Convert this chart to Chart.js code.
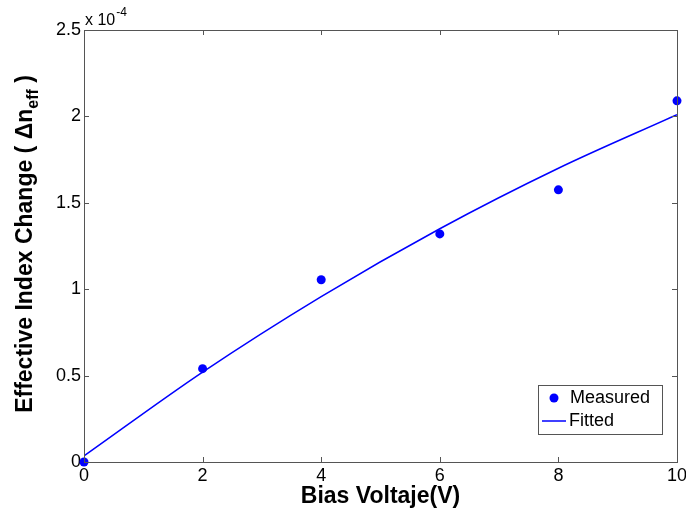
<!DOCTYPE html>
<html>
<head>
<meta charset="utf-8">
<script src="https://cdn.jsdelivr.net/npm/chart.js@4.4.1/dist/chart.umd.min.js"></script>
<style>
  html, body { margin: 0; padding: 0; background: #fff; }
  #chart { display: block; }
</style>
</head>
<body>
<canvas id="chart" width="686" height="516"></canvas>
<script>
// values, y in units of 1e-4
const voltage = [0, 2, 4, 6, 8, 10];
const measured = [0, 0.54, 1.055, 1.32, 1.575, 2.09];
const fitted = [0.035, 0.52, 0.957, 1.35, 1.70, 2.01];
const xTicks = [0, 2, 4, 6, 8, 10];
const yTicks = [0, 0.5, 1, 1.5, 2, 2.5];
const yExponent = "-4";
const seriesNames = ["Measured", "Fitted"];

const FONT = "'Liberation Sans', Arial, sans-serif";
const AXIS = "#555555";
const BLUE = "#0000ff";

const toXY = (ys) => voltage.map((v, i) => ({ x: v, y: ys[i] }));

// frame, inward ticks, titles, exponent and legend
const matlabLook = {
  id: "matlabLook",
  afterDraw(chart) {
    const { ctx, chartArea: a, scales } = chart;
    const xs = scales.x, ys = scales.y;
    ctx.save();

    ctx.strokeStyle = AXIS;
    ctx.lineWidth = 1;
    ctx.strokeRect(a.left + 0.5, a.top + 0.5, a.right - a.left, a.bottom - a.top);

    const t = 5;
    ctx.beginPath();
    xTicks.forEach((v) => {
      const px = Math.round(xs.getPixelForValue(v)) + 0.5;
      ctx.moveTo(px, a.bottom); ctx.lineTo(px, a.bottom - t);
      ctx.moveTo(px, a.top); ctx.lineTo(px, a.top + t);
    });
    yTicks.forEach((v) => {
      const py = Math.round(ys.getPixelForValue(v)) + 0.5;
      ctx.moveTo(a.left, py); ctx.lineTo(a.left + t, py);
      ctx.moveTo(a.right, py); ctx.lineTo(a.right - t, py);
    });
    ctx.stroke();

    // exponent label
    ctx.fillStyle = "#000";
    ctx.textBaseline = "alphabetic";
    ctx.textAlign = "left";
    ctx.font = "16px " + FONT;
    ctx.fillText("x 10", a.left + 1, a.top - 5);
    const w10 = ctx.measureText("x 10").width;
    ctx.font = "12px " + FONT;
    ctx.fillText(yExponent, a.left + 2 + w10, a.top - 14);

    // x title
    ctx.font = "bold 23px " + FONT;
    ctx.textAlign = "center";
    ctx.fillText("Bias Voltaje(V)", (a.left + a.right) / 2, 503);

    // y title with subscript
    const main = "Effective Index Change ( \u0394n";
    const sub = "eff";
    const tail = " )";
    ctx.font = "bold 23px " + FONT;
    const wMain = ctx.measureText(main).width;
    const wTail = ctx.measureText(tail).width;
    ctx.font = "bold 16px " + FONT;
    const wSub = ctx.measureText(sub).width;
    const total = wMain + wSub + wTail;
    ctx.translate(32, (a.top + a.bottom) / 2 - 2);
    ctx.rotate(-Math.PI / 2);
    ctx.textAlign = "left";
    let x0 = -total / 2;
    ctx.font = "bold 23px " + FONT;
    ctx.fillText(main, x0, 0);
    ctx.font = "bold 16px " + FONT;
    ctx.fillText(sub, x0 + wMain, 6);
    ctx.font = "bold 23px " + FONT;
    ctx.fillText(tail, x0 + wMain + wSub, 0);
    ctx.setTransform(1, 0, 0, 1, 0, 0);

    // legend
    const lx = 538, ly = 385, lw = 124, lh = 49;
    ctx.fillStyle = "#fff";
    ctx.fillRect(lx, ly, lw, lh);
    ctx.strokeStyle = AXIS;
    ctx.strokeRect(lx + 0.5, ly + 0.5, lw, lh);
    ctx.fillStyle = BLUE;
    ctx.beginPath();
    ctx.arc(554, 398, 4.5, 0, Math.PI * 2);
    ctx.fill();
    ctx.strokeStyle = BLUE;
    ctx.lineWidth = 1.5;
    ctx.beginPath();
    ctx.moveTo(542, 421); ctx.lineTo(566, 421);
    ctx.stroke();
    ctx.fillStyle = "#000";
    ctx.font = "18px " + FONT;
    ctx.textBaseline = "middle";
    ctx.textAlign = "left";
    ctx.fillText(seriesNames[0], 570, 398);
    ctx.fillText(seriesNames[1], 569, 421);

    ctx.restore();
  },
};

new Chart(document.getElementById("chart"), {
  type: "scatter",
  data: {
    datasets: [
      {
        label: seriesNames[1],
        data: toXY(fitted),
        showLine: true,
        borderColor: BLUE,
        borderWidth: 1.5,
        pointRadius: 0,
        cubicInterpolationMode: "monotone",
      },
      {
        label: seriesNames[0],
        data: toXY(measured),
        showLine: false,
        backgroundColor: BLUE,
        borderColor: BLUE,
        pointRadius: 4.5,
        borderWidth: 0,
        clip: 10,
      },
    ],
  },
  options: {
    responsive: false,
    animation: false,
    layout: { padding: { left: 0, right: 9, top: 30, bottom: 0 } },
    plugins: { legend: { display: false }, tooltip: { enabled: false } },
    scales: {
      x: {
        type: "linear",
        min: 0,
        max: 10,
        afterFit: (s) => { s.height = 54; s.paddingLeft = 0; s.paddingRight = 0; },
        afterBuildTicks: (s) => { s.ticks = xTicks.map((v) => ({ value: v })); },
        grid: { display: false, drawTicks: false },
        border: { display: false },
        ticks: { color: "#000", font: { family: FONT, size: 18 }, padding: 3, maxRotation: 0, callback: (v) => String(v) },
      },
      y: {
        type: "linear",
        min: 0,
        max: 2.5,
        afterFit: (s) => { s.width = 84; s.paddingTop = 0; s.paddingBottom = 0; },
        afterBuildTicks: (s) => { s.ticks = yTicks.map((v) => ({ value: v })); },
        grid: { display: false, drawTicks: false },
        border: { display: false },
        ticks: { color: "#000", font: { family: FONT, size: 18 }, padding: 3, callback: (v) => String(v) },
      },
    },
  },
  plugins: [matlabLook],
});
</script>
</body>
</html>
